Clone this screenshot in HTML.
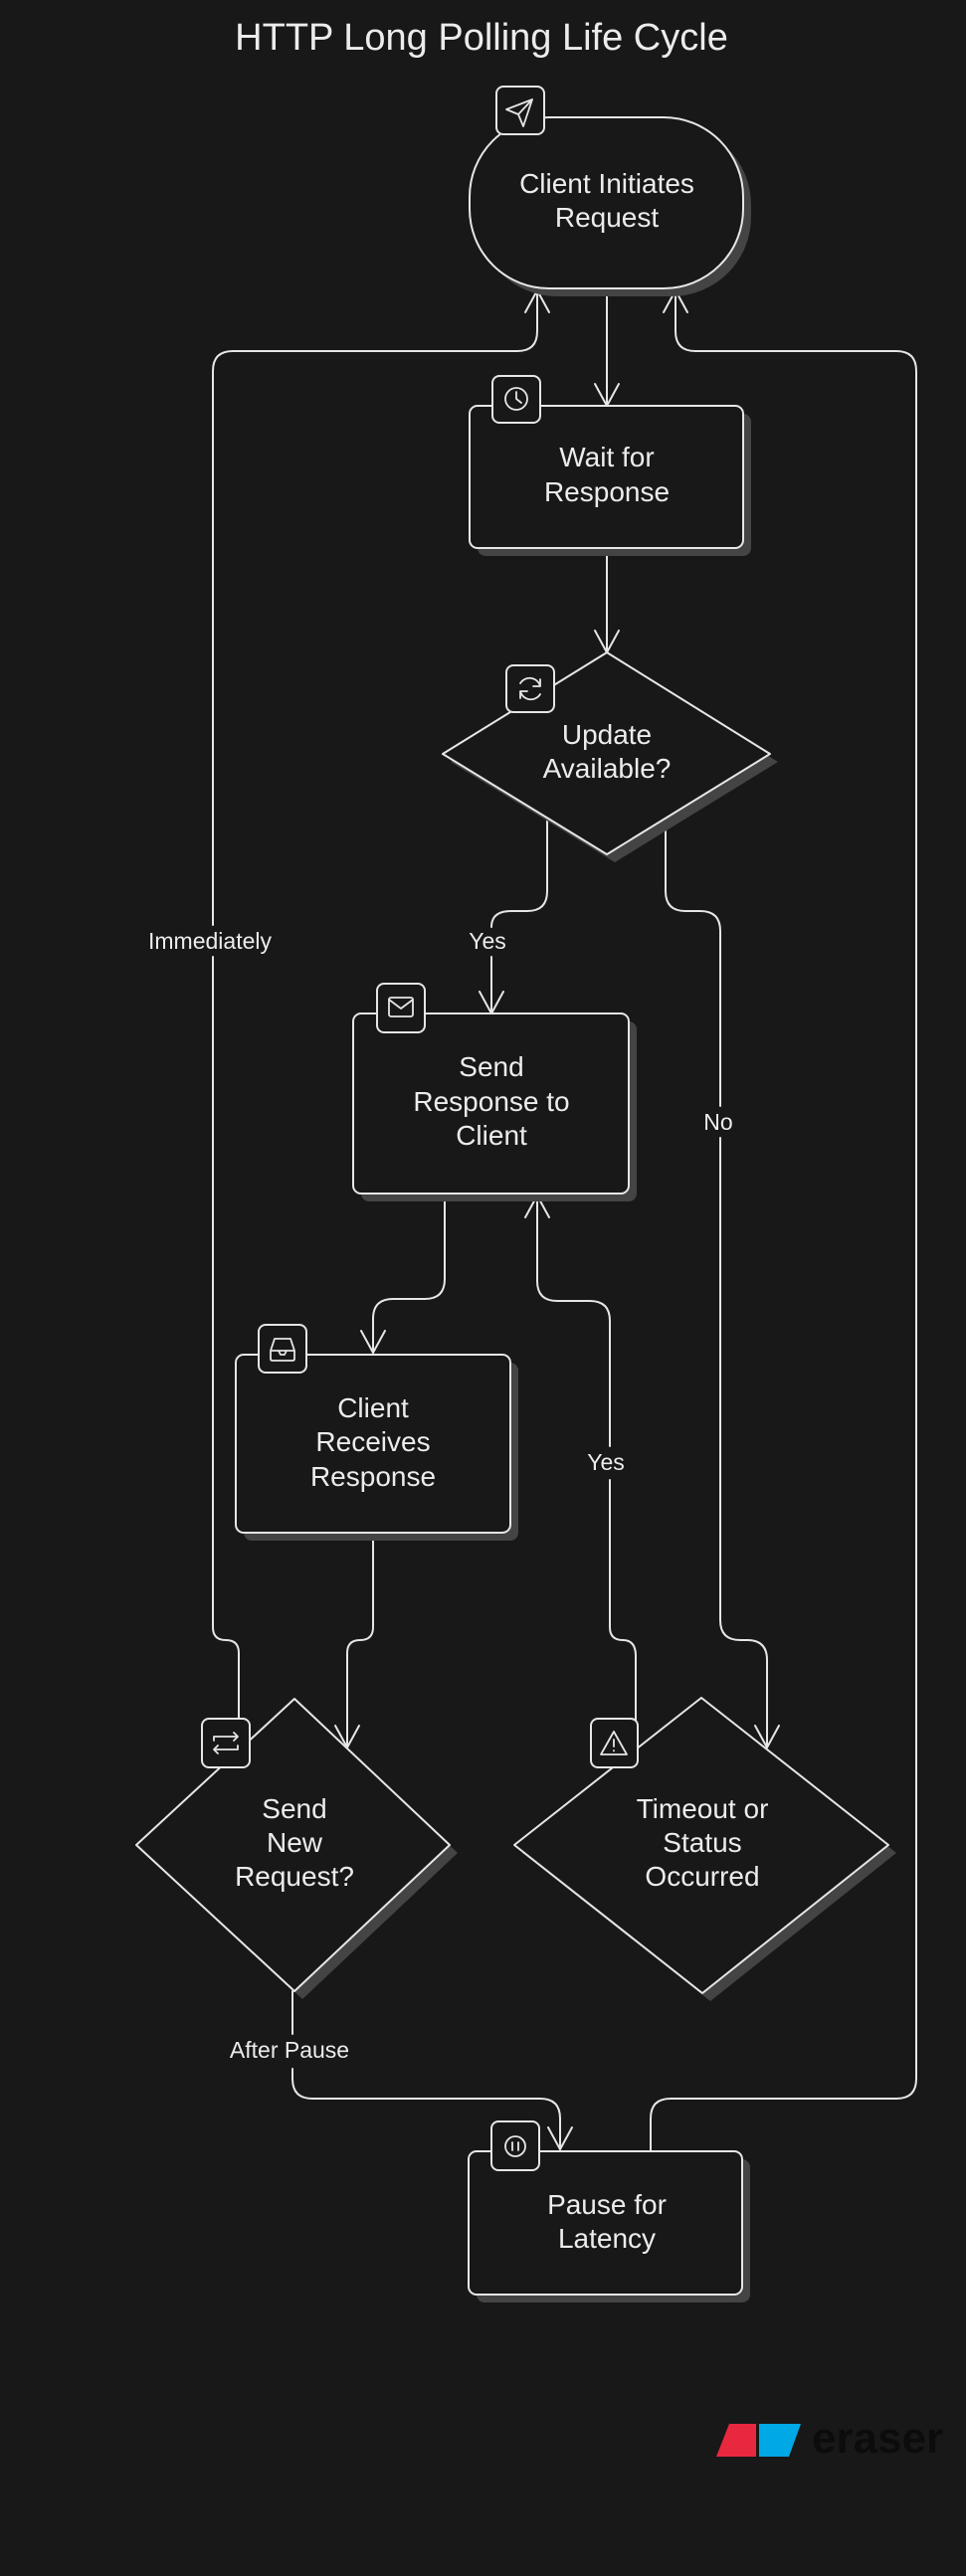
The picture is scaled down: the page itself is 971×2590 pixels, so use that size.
<!DOCTYPE html>
<html><head><meta charset="utf-8"><style>
html,body{margin:0;padding:0;background:#181818;}
svg{display:block;}
text{font-family:"Liberation Sans",sans-serif;fill:#ececec;}
</style></head><body>
<svg width="971" height="2590" viewBox="0 0 971 2590" xmlns="http://www.w3.org/2000/svg">
<rect width="971" height="2590" fill="#181818"/>
<text x="484" y="50" font-size="38" text-anchor="middle">HTTP Long Polling Life Cycle</text>

<g fill="none" stroke="#e6e6e6" stroke-width="2" stroke-linecap="round" stroke-linejoin="round">
<path d="M610,290 V406"/><path d="M598,386 L610,408 L622,386"/>
<path d="M610,551 V654"/><path d="M598,634 L610,656 L622,634"/>
<path d="M240,1760 V1662 Q240,1649 227,1649 Q214,1649 214,1636 V962 M214,930 V373 Q214,353 234,353 H520 Q540,353 540,333 V292"/>
<path d="M528,314 L540,292 L552,314"/>
<path d="M654,2163 V2130 Q654,2110 674,2110 H901 Q921,2110 921,2090 V373 Q921,353 901,353 H699 Q679,353 679,333 V292"/>
<path d="M667,314 L679,292 L691,314"/>
<path d="M550,822 V896 Q550,916 530,916 H514 Q494,916 494,932 M494,962 V1019"/>
<path d="M482,997 L494,1019 L506,997"/>
<path d="M669,823 V896 Q669,916 689,916 H704 Q724,916 724,936 V1112 M724,1144 V1629 Q724,1649 744,1649 H751 Q771,1649 771,1669 V1757"/>
<path d="M759,1735 L771,1757 L783,1735"/>
<path d="M447,1200 V1286 Q447,1306 427,1306 H395 Q375,1306 375,1326 V1360"/>
<path d="M363,1338 L375,1360 L387,1338"/>
<path d="M639,1759 V1665 Q639,1649 626,1649 Q613,1649 613,1636 V1488 M613,1454 V1328 Q613,1308 593,1308 H560 Q540,1308 540,1288 V1202"/>
<path d="M528,1224 L540,1202 L552,1224"/>
<path d="M375,1541 V1636 Q375,1649 362,1649 Q349,1649 349,1662 V1757"/>
<path d="M337,1735 L349,1757 L361,1735"/>
<path d="M294,2002 V2045 M294,2080 V2090 Q294,2110 314,2110 H543 Q563,2110 563,2130 V2161"/>
<path d="M551,2139 L563,2161 L575,2139"/>
</g>

<g font-size="23" text-anchor="middle">
<text x="211" y="954">Immediately</text>
<text x="490" y="954">Yes</text>
<text x="722" y="1136">No</text>
<text x="609" y="1478">Yes</text>
<text x="291" y="2069">After Pause</text>
</g>

<g fill="#444">
<rect x="480" y="126" width="275" height="172" rx="80"/>
<rect x="480" y="416" width="275" height="143" rx="8"/>
<polygon points="618,664 782,766 618,867 453,766"/>
<rect x="363" y="1027" width="277" height="181" rx="8"/>
<rect x="245" y="1370" width="276" height="179" rx="8"/>
<polygon points="304,1716 460,1863 304,2010 145,1863"/>
<polygon points="713,1715 901,1863 714,2012 525,1863"/>
<rect x="479" y="2171" width="275" height="144" rx="8"/>
</g>
<g fill="#181818" stroke="#e6e6e6" stroke-width="2" stroke-linejoin="round">
<rect x="472" y="118" width="275" height="172" rx="80"/>
<rect x="472" y="408" width="275" height="143" rx="8"/>
<polygon points="610,656 774,758 610,859 445,758"/>
<rect x="355" y="1019" width="277" height="181" rx="8"/>
<rect x="237" y="1362" width="276" height="179" rx="8"/>
<polygon points="296,1708 452,1855 296,2002 137,1855"/>
<polygon points="705,1707 893,1855 706,2004 517,1855"/>
<rect x="471" y="2163" width="275" height="144" rx="8"/>
<rect x="499" y="87" width="48" height="48" rx="7"/>
<rect x="495" y="378" width="48" height="47" rx="7"/>
<rect x="509" y="669" width="48" height="47" rx="7"/>
<rect x="379" y="989" width="48" height="49" rx="7"/>
<rect x="260" y="1332" width="48" height="48" rx="7"/>
<rect x="203" y="1728" width="48" height="49" rx="7"/>
<rect x="594" y="1728" width="47" height="49" rx="7"/>
<rect x="494" y="2133" width="48" height="49" rx="7"/>
</g>
<g fill="none" stroke="#e6e6e6" stroke-width="1.8" stroke-linecap="round" stroke-linejoin="round">
<path d="M535,100 L509,110 L521,115 L526,127 Z M521,115 L535,100"/>
<circle cx="519" cy="401" r="11"/><path d="M519,394 V401 L524,405"/>
<path d="M523,687 A11,11 0 0 1 543,690 M543,683 V690 H536 M543,698 A11,11 0 0 1 523,695 M523,702 V695 H530"/>
<rect x="391" y="1003" width="24" height="19" rx="2"/><path d="M391,1005 L403,1014 L415,1005"/>
<path d="M272,1358 H296 V1366 Q296,1368 294,1368 H274 Q272,1368 272,1366 Z M272,1358 L276,1346 H292 L296,1358 M272,1358 H280 L282,1362 H286 L288,1358"/>
<path d="M215,1746 H239 L235,1742 M239,1746 L235,1750 M239,1759 H215 L219,1755 M215,1759 L219,1763 M215,1746 V1750 M239,1759 V1755"/>
<path d="M617,1741 L630,1764 H604 Z M617,1749 V1756 M617,1760 V1760.5"/>
<circle cx="518" cy="2158" r="10"/><path d="M515,2154 V2162 M521,2154 V2162"/>
</g>

<g font-size="28" text-anchor="middle">
<text x="610" y="194">Client Initiates</text>
<text x="610" y="228">Request</text>
<text x="610" y="469">Wait for</text>
<text x="610" y="504">Response</text>
<text x="610" y="748">Update</text>
<text x="610" y="782">Available?</text>
<text x="494" y="1082">Send</text>
<text x="494" y="1117">Response to</text>
<text x="494" y="1151">Client</text>
<text x="375" y="1425">Client</text>
<text x="375" y="1459">Receives</text>
<text x="375" y="1494">Response</text>
<text x="296" y="1828">Send</text>
<text x="296" y="1862">New</text>
<text x="296" y="1896">Request?</text>
<text x="706" y="1828">Timeout or</text>
<text x="706" y="1862">Status</text>
<text x="706" y="1896">Occurred</text>
<text x="610" y="2226">Pause for</text>
<text x="610" y="2260">Latency</text>
</g>

<polygon points="733,2437 760,2437 760,2470 720,2470" fill="#e8283f"/>
<polygon points="763,2437 805,2437 793,2470 763,2470" fill="#00a8e6"/>
<text x="816" y="2466" font-size="44" font-weight="bold" style="fill:#0c0c0c">eraser</text>
</svg>
</body></html>
